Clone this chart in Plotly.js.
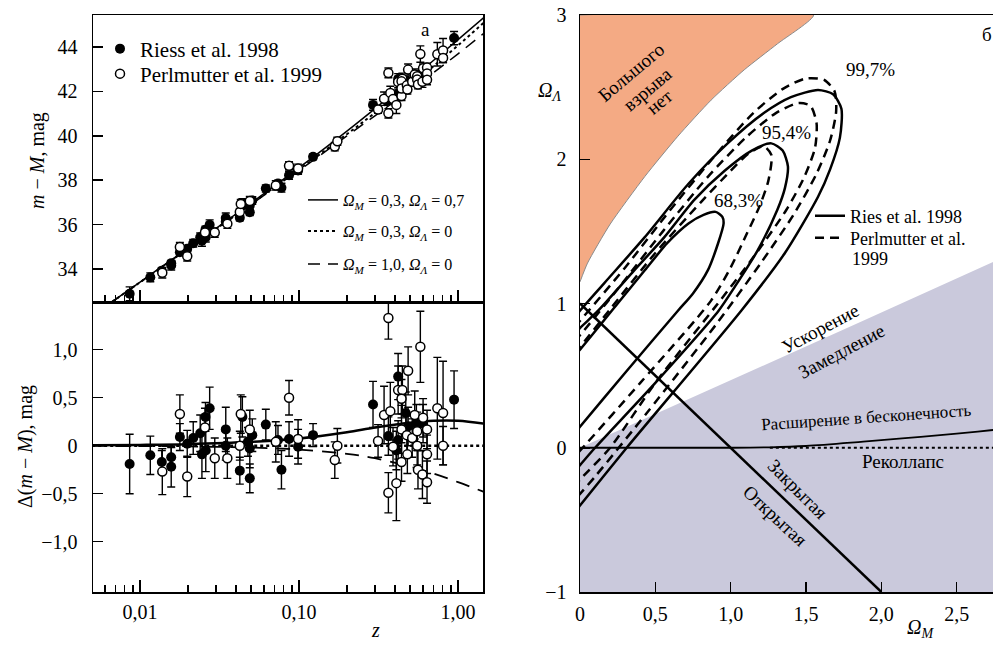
<!DOCTYPE html>
<html><head><meta charset="utf-8">
<script src="https://cdn.plot.ly/plotly-3.0.1.min.js"></script>
<style>html,body{margin:0;padding:0;overflow:hidden;background:#fff}#chart{width:1040px;height:645px}</style>
</head><body><div id="chart"></div>
<script>
// ---------- Left panels: supernova data ----------
const zRiess = [0.0086, 0.0116, 0.0137, 0.0157, 0.0157, 0.0178, 0.0198, 0.0216, 0.0239, 0.0245, 0.0258, 0.0274, 0.0259, 0.0346, 0.0346, 0.0424, 0.0440, 0.0490, 0.0490, 0.0508, 0.0477, 0.0618, 0.0737, 0.0775, 0.0865, 0.0986, 0.1225, 0.2919, 0.3647, 0.4200, 0.4200, 0.4093, 0.4690, 0.4853, 0.5470, 0.6026, 0.9440];
const muRiess = [32.88, 33.62, 33.92, 34.26, 34.16, 34.75, 34.91, 35.16, 35.43, 35.27, 35.77, 35.99, 35.43, 36.29, 36.12, 36.31, 36.95, 36.86, 36.55, 37.08, 36.87, 37.62, 37.85, 37.66, 38.22, 38.44, 39.05, 41.39, 41.60, 42.56, 41.90, 41.73, 42.46, 42.40, 42.73, 42.98, 44.40];
const resRiess = [-0.19, -0.10, -0.17, -0.12, -0.22, 0.09, 0.02, 0.08, 0.13, -0.09, 0.30, 0.39, -0.05, 0.17, 0.00, -0.26, 0.30, -0.03, -0.34, 0.11, 0.04, 0.22, 0.06, -0.25, 0.07, -0.01, 0.11, 0.43, 0.10, 0.72, 0.06, -0.05, 0.34, 0.20, 0.23, 0.23, 0.48];
const errRiess = [0.31, 0.20, 0.12, 0.10, 0.21, 0.14, 0.14, 0.17, 0.19, 0.25, 0.15, 0.22, 0.22, 0.23, 0.15, 0.14, 0.21, 0.20, 0.15, 0.17, 0.15, 0.16, 0.15, 0.20, 0.18, 0.18, 0.12, 0.24, 0.20, 0.24, 0.20, 0.20, 0.22, 0.20, 0.20, 0.20, 0.30];

const zPerl = [0.0138, 0.0178, 0.0198, 0.0256, 0.0295, 0.0354, 0.0424, 0.0430, 0.0490, 0.0714, 0.0865, 0.0986, 0.1678, 0.1742, 0.3140, 0.3426, 0.3647, 0.3647, 0.3750, 0.3900, 0.4200, 0.4466, 0.4410, 0.4853, 0.4093, 0.4410, 0.4410, 0.4765, 0.4800, 0.5150, 0.5340, 0.5534, 0.5534, 0.5598, 0.5794, 0.5971, 0.6026, 0.6383, 0.6383, 0.6383, 0.7410, 0.8050, 0.8050];
const muPerl = [33.83, 34.99, 34.57, 35.64, 35.64, 36.04, 36.57, 36.93, 37.06, 37.76, 38.65, 38.52, 39.51, 39.75, 41.18, 41.67, 42.83, 41.01, 41.93, 41.65, 42.42, 42.57, 42.45, 42.98, 41.39, 41.79, 42.13, 42.27, 42.08, 42.43, 42.76, 42.68, 42.53, 42.31, 43.68, 42.43, 43.04, 43.07, 42.81, 42.52, 43.67, 43.84, 43.50];
const resPerl = [-0.27, 0.33, -0.32, 0.19, -0.13, -0.13, 0.00, 0.33, 0.17, 0.04, 0.50, 0.07, -0.15, 0.00, 0.05, 0.32, 1.33, -0.49, 0.36, -0.01, 0.58, 0.58, 0.49, 0.78, -0.39, -0.17, 0.17, 0.11, -0.09, 0.08, 0.32, 0.15, 0.00, -0.25, 1.03, -0.30, 0.29, 0.17, -0.09, -0.38, 0.39, 0.34, 0.00];
const errPerl = [0.24, 0.20, 0.21, 0.20, 0.21, 0.21, 0.15, 0.20, 0.20, 0.21, 0.18, 0.20, 0.19, 0.18, 0.17, 0.30, 0.22, 0.21, 0.30, 0.20, 0.25, 0.25, 0.20, 0.25, 0.39, 0.20, 0.25, 0.20, 0.20, 0.20, 0.25, 0.20, 0.20, 0.20, 0.37, 0.25, 0.20, 0.20, 0.20, 0.22, 0.53, 0.54, 0.20];

// model curves
const zModel = [0.005, 0.01, 0.02, 0.05, 0.1, 0.2, 0.3, 0.5, 0.7, 1.0, 1.45];
const muLambda = [31.89, 33.41, 34.93, 36.97, 38.56, 40.21, 41.22, 42.52, 43.39, 44.33, 45.32];
const muOpen   = [31.89, 33.40, 34.91, 36.93, 38.48, 40.07, 41.03, 42.28, 43.13, 44.07, 45.09];
const muEdS    = [31.89, 33.40, 34.90, 36.91, 38.44, 39.99, 40.90, 42.06, 42.84, 43.69, 44.61];
const resLambda = [0.004, 0.008, 0.016, 0.04, 0.075, 0.14, 0.19, 0.24, 0.26, 0.26, 0.23];
const resOpen   = [0, 0, 0, 0, 0, 0, 0, 0, 0, 0, 0];
const resEdS    = [-0.002, -0.004, -0.008, -0.02, -0.04, -0.085, -0.13, -0.22, -0.29, -0.38, -0.48];

const zTickVals = [0.01, 0.1, 1];
const zTickText = ['0,01', '0,10', '1,00'];
const zMinorVals = [0.006, 0.007, 0.008, 0.009, 0.02, 0.03, 0.04, 0.05, 0.06, 0.07, 0.08, 0.09, 0.2, 0.3, 0.4, 0.5, 0.6, 0.7, 0.8, 0.9];
const muTickVals = [34, 36, 38, 40, 42, 44];
const muTickText = ['34', '36', '38', '40', '42', '44'];
const resTickVals = [-1, -0.5, 0, 0.5, 1];
const resTickText = ['\u22121,0', '\u22120,5', '0', '0,5', '1,0'];

// ---------- Right panel: Omega_M - Omega_Lambda plane ----------
const noBangOm = [0, 0.05, 0.2, 0.43, 0.65, 0.87, 1.09, 1.31, 1.55, 0];
const noBangOl = [1.15, 1.28, 1.55, 1.88, 2.16, 2.41, 2.62, 2.80, 3.0, 3.0];
const decelOm = [0, 0, 1.89, 3.0, 3.0];
const decelOl = [-1, 0, 0.885, 1.41, -1];
const flatOm = [0, 2];
const flatOl = [1, -1];
const expandOm = [0, 1.0, 1.26, 1.5, 1.88, 2.2, 2.5, 2.74, 3.0];
const expandOl = [0, 0, 0.003, 0.012, 0.042, 0.07, 0.098, 0.123, 0.15];
const recollOm = [1.26, 3.0];
const recollOl = [0, 0];

const riess68Om = [-0.1, 0, 0.25, 0.43, 0.58, 0.72, 0.82, 0.90, 0.945, 0.953, 0.916, 0.849, 0.75, 0.65, 0.30, 0, -0.1];
const riess68Ol = [0.56, 0.68, 1.0, 1.23, 1.42, 1.555, 1.615, 1.635, 1.60, 1.555, 1.416, 1.231, 1.07, 0.95, 0.52, 0.146, 0.02];
const riess95Om = [-0.1, 0, 0.12, 0.36, 0.56, 0.76, 0.96, 1.14, 1.27, 1.345, 1.38, 1.36, 1.31, 1.18, 1.03, 0.92, 0.50, 0.10, 0, -0.1];
const riess95Ol = [0.72, 0.83, 0.95, 1.23, 1.46, 1.72, 1.92, 2.06, 2.11, 2.06, 1.95, 1.80, 1.65, 1.37, 1.12, 0.95, 0.45, 0.0, -0.12, -0.24];
const riess99Om = [-0.1, 0, 0.16, 0.43, 0.72, 0.98, 1.22, 1.40, 1.58, 1.68, 1.735, 1.725, 1.66, 1.58, 1.36, 1.07, 0.31, 0, -0.1];
const riess99Ol = [0.82, 0.95, 1.14, 1.46, 1.83, 2.11, 2.32, 2.43, 2.48, 2.45, 2.35, 2.15, 1.93, 1.74, 1.35, 0.95, 0.0, -0.40, -0.53];

const perl68Om = [-0.1, 0, 0.2, 0.5, 0.8, 1.0, 1.12, 1.22, 1.27, 1.25, 1.19, 1.11, 1.0, 0.87, 0.4, 0, -0.1];
const perl68Ol = [0.58, 0.70, 0.96, 1.35, 1.70, 1.92, 2.04, 2.09, 2.03, 1.85, 1.67, 1.49, 1.25, 1.02, 0.45, -0.02, -0.13];
const perl95Om = [-0.1, 0, 0.25, 0.55, 0.85, 1.1, 1.3, 1.45, 1.53, 1.57, 1.56, 1.49, 1.37, 1.15, 0.9, 0.5, 0.2, 0, -0.1];
const perl95Ol = [0.66, 0.78, 1.1, 1.5, 1.88, 2.15, 2.32, 2.39, 2.37, 2.25, 2.08, 1.88, 1.65, 1.32, 0.98, 0.45, 0.0, -0.22, -0.34];
const perl99Om = [-0.1, 0, 0.3, 0.6, 0.9, 1.15, 1.35, 1.50, 1.62, 1.69, 1.70, 1.66, 1.57, 1.42, 1.2, 0.9, 0.45, 0.1, 0, -0.1];
const perl99Ol = [0.76, 0.88, 1.25, 1.65, 2.03, 2.32, 2.49, 2.56, 2.55, 2.47, 2.33, 2.13, 1.9, 1.62, 1.28, 0.85, 0.25, -0.2, -0.32, -0.44];

const omTickVals = [0, 0.5, 1, 1.5, 2, 2.5, 3];
const omTickText = ['0', '0,5', '1,0', '1,5', '2,0', '2,5', '3,0'];
const olTickVals = [-1, 0, 1, 2, 3];
const olTickText = ['\u22121', '0', '1', '2', '3'];

// ---------- drawing ----------
const FONT = 'Liberation Serif, DejaVu Serif, Times New Roman, Times, serif';
const W = 1040, H = 645;
const fx = p => p / W, fy = p => 1 - p / H;

const mk = (x, y, xa, ya, extra) => Object.assign({x: x, y: y, xaxis: xa, yaxis: ya, type: 'scatter', hoverinfo: 'skip'}, extra);
const filledM = {symbol: 'circle', size: 10, color: '#000'};
const openM = {symbol: 'circle', size: 9, color: '#fff', line: {color: '#000', width: 1.5}};
const errB = arr => ({type: 'data', array: arr, visible: true, color: '#000', thickness: 1.4, width: 4});
const OmM = '<i>\u03A9<sub>M</sub></i>', OmL = '<i>\u03A9<sub>\u039B</sub></i>';

const traces = [
  // top panel
  mk(zModel, muLambda, 'x', 'y', {mode: 'lines', line: {color: '#000', width: 1.5, shape: 'spline'}, name: OmM + ' = 0,3, ' + OmL + ' = 0,7', legend: 'legend3'}),
  mk(zModel, muOpen, 'x', 'y', {mode: 'lines', line: {color: '#000', width: 2, dash: 'dot', shape: 'spline'}, name: OmM + ' = 0,3, ' + OmL + ' = 0', legend: 'legend4'}),
  mk(zModel, muEdS, 'x', 'y', {mode: 'lines', line: {color: '#000', width: 1.5, dash: '12px,8px', shape: 'spline'}, name: OmM + ' = 1,0, ' + OmL + ' = 0', legend: 'legend5'}),
  mk(zRiess, muRiess, 'x', 'y', {mode: 'markers', marker: filledM, error_y: errB(errRiess), name: 'Riess et al. 1998', legend: 'legend'}),
  mk(zPerl, muPerl, 'x', 'y', {mode: 'markers', marker: openM, error_y: errB(errPerl), name: 'Perlmutter et al. 1999', legend: 'legend2'}),
  // bottom panel
  mk(zModel, resOpen, 'x2', 'y2', {mode: 'lines', line: {color: '#000', width: 2.5, dash: 'dot'}, showlegend: false}),
  mk(zModel, resEdS, 'x2', 'y2', {mode: 'lines', line: {color: '#000', width: 1.8, dash: '14px,9px', shape: 'spline'}, showlegend: false}),
  mk(zModel, resLambda, 'x2', 'y2', {mode: 'lines', line: {color: '#000', width: 2.5, shape: 'spline'}, showlegend: false}),
  mk(zRiess, resRiess, 'x2', 'y2', {mode: 'markers', marker: filledM, error_y: errB(errRiess), showlegend: false}),
  mk(zPerl, resPerl, 'x2', 'y2', {mode: 'markers', marker: openM, error_y: errB(errPerl), showlegend: false}),
  // right panel
  mk(decelOm, decelOl, 'x3', 'y3', {mode: 'lines', fill: 'toself', fillcolor: '#cac9dc', line: {width: 0}, showlegend: false}),
  mk(noBangOm, noBangOl, 'x3', 'y3', {mode: 'lines', fill: 'toself', fillcolor: '#f4aa84', line: {width: 1, color: '#8a8a8a', shape: 'spline', smoothing: 0.6}, showlegend: false}),
  mk(expandOm, expandOl, 'x3', 'y3', {mode: 'lines', line: {color: '#000', width: 1.8, shape: 'spline'}, showlegend: false}),
  mk(recollOm, recollOl, 'x3', 'y3', {mode: 'lines', line: {color: '#000', width: 2, dash: 'dot'}, showlegend: false}),
  mk(flatOm, flatOl, 'x3', 'y3', {mode: 'lines', line: {color: '#000', width: 2.5}, showlegend: false}),
  mk(riess68Om, riess68Ol, 'x3', 'y3', {mode: 'lines', line: {color: '#000', width: 2.5, shape: 'spline', smoothing: 0.7}, name: 'Ries et al. 1998', legend: 'legend6'}),
  mk(riess95Om, riess95Ol, 'x3', 'y3', {mode: 'lines', line: {color: '#000', width: 2.5, shape: 'spline', smoothing: 0.7}, showlegend: false}),
  mk(riess99Om, riess99Ol, 'x3', 'y3', {mode: 'lines', line: {color: '#000', width: 2.5, shape: 'spline', smoothing: 0.7}, showlegend: false}),
  mk(perl68Om, perl68Ol, 'x3', 'y3', {mode: 'lines', line: {color: '#000', width: 2.5, dash: '9px,6px', shape: 'spline', smoothing: 0.7}, name: 'Perlmutter et al.', legend: 'legend7'}),
  mk(perl95Om, perl95Ol, 'x3', 'y3', {mode: 'lines', line: {color: '#000', width: 2.5, dash: '9px,6px', shape: 'spline', smoothing: 0.7}, showlegend: false}),
  mk(perl99Om, perl99Ol, 'x3', 'y3', {mode: 'lines', line: {color: '#000', width: 2.5, dash: '9px,6px', shape: 'spline', smoothing: 0.7}, showlegend: false})
];

const axisBase = {showline: true, linecolor: '#000', linewidth: 1.5, mirror: true, showgrid: false, zeroline: false,
  ticks: 'inside', tickcolor: '#000', tickwidth: 1.5, tickfont: {family: FONT, size: 20, color: '#000'}, fixedrange: true};

const ann = (px, py, text, size, angle, extra) => Object.assign({x: fx(px), y: fy(py), xref: 'paper', yref: 'paper', text: text, showarrow: false,
  font: {family: FONT, size: size, color: '#000'}, textangle: angle || 0, xanchor: 'center', yanchor: 'middle'}, extra || {});
const leg = (pxLeft, pyMid, size) => ({x: fx(pxLeft), y: fy(pyMid), xanchor: 'left', yanchor: 'middle', bgcolor: 'rgba(0,0,0,0)', borderwidth: 0,
  font: {family: FONT, size: size, color: '#000'}, itemwidth: 30});

const layout = {
  width: W, height: H, margin: {l: 0, r: 0, t: 0, b: 0}, paper_bgcolor: '#fff', plot_bgcolor: 'rgba(0,0,0,0)',
  font: {family: FONT, color: '#000', size: 16},
  xaxis: Object.assign({}, axisBase, {type: 'log', domain: [fx(93), fx(483)], range: [-2.296, 0.157], anchor: 'y',
    tickmode: 'array', tickvals: zTickVals, ticktext: zTickText, showticklabels: false, ticklen: 12,
    minor: {tickmode: 'array', tickvals: zMinorVals, ticks: 'inside', ticklen: 7, tickcolor: '#000', tickwidth: 1.5}}),
  yaxis: Object.assign({}, axisBase, {domain: [fy(302), fy(15)], range: [32.51, 45.44], anchor: 'x',
    tickmode: 'array', tickvals: muTickVals, ticktext: muTickText, ticklen: 10, ticklabelstandoff: 10}),
  xaxis2: Object.assign({}, axisBase, {type: 'log', domain: [fx(93), fx(483)], range: [-2.296, 0.157], anchor: 'y2',
    tickmode: 'array', tickvals: zTickVals, ticktext: zTickText, ticklen: 12, ticklabelstandoff: 1,
    minor: {tickmode: 'array', tickvals: zMinorVals, ticks: 'inside', ticklen: 7, tickcolor: '#000', tickwidth: 1.5}}),
  yaxis2: Object.assign({}, axisBase, {domain: [fy(592), fy(302)], range: [-1.524, 1.497], anchor: 'x2',
    tickmode: 'array', tickvals: resTickVals, ticktext: resTickText, ticklen: 10, ticklabelstandoff: 10}),
  xaxis3: Object.assign({}, axisBase, {domain: [fx(580), fx(1032)], range: [0, 3], anchor: 'y3',
    tickmode: 'array', tickvals: omTickVals, ticktext: omTickText, ticklen: 10, ticklabelstandoff: 3}),
  yaxis3: Object.assign({}, axisBase, {domain: [fy(592), fy(15)], range: [-1, 3], anchor: 'x3',
    tickmode: 'array', tickvals: olTickVals, ticktext: olTickText, ticklen: 10, ticklabelstandoff: 8}),
  legend: leg(100, 49, 21),
  legend2: leg(100, 74, 21),
  legend3: leg(303, 200, 16),
  legend4: leg(303, 231, 16),
  legend5: leg(303, 264, 16),
  legend6: leg(810, 216, 18),
  legend7: leg(810, 238, 18),
  annotations: [
    ann(38, 161, '<i>m</i> \u2212 <i>M</i>, mag', 20, -90),
    ann(25, 447, '\u0394(<i>m</i> \u2212 <i>M</i>), mag', 20, -90),
    ann(375, 630, '<i>z</i>', 20, 0),
    ann(425, 30, '\u0430', 19, 0),
    ann(549, 92, OmL, 20, 0),
    ann(920, 628, OmM, 20, 0),
    ann(987, 35, '\u0431', 19, 0),
    ann(631, 73, '\u0411\u043e\u043b\u044c\u0448\u043e\u0433\u043e', 19, -40),
    ann(647, 89, '\u0432\u0437\u0440\u044b\u0432\u0430', 19, -40),
    ann(660, 102, '\u043d\u0435\u0442', 19, -40),
    ann(850, 259, '1999', 18, 0, {xanchor: 'left'}),
    ann(870, 70, '99,7%', 19, 0),
    ann(786, 132, '95,4%', 19, 0),
    ann(738, 200, '68,3%', 19, 0),
    ann(820, 328, '\u0423\u0441\u043a\u043e\u0440\u0435\u043d\u0438\u0435', 19, -28),
    ann(841, 351, '\u0417\u0430\u043c\u0435\u0434\u043b\u0435\u043d\u0438\u0435', 19, -28),
    ann(758, 436, '\u0420\u0430\u0441\u0448\u0438\u0440\u0435\u043d\u0438\u0435 \u0432 \u0431\u0435\u0441\u043a\u043e\u043d\u0435\u0447\u043d\u043e\u0441\u0442\u044c', 17, -4, {xanchor: 'left', yanchor: 'bottom'}),
    ann(903, 461, '\u0420\u0435\u043a\u043e\u043b\u043b\u0430\u043f\u0441', 19, 0),
    ann(797, 489, '\u0417\u0430\u043a\u0440\u044b\u0442\u0430\u044f', 19, 45),
    ann(775, 515, '\u041e\u0442\u043a\u0440\u044b\u0442\u0430\u044f', 19, 43)
  ]
};

Plotly.newPlot('chart', traces, layout, {staticPlot: true, displayModeBar: false});
</script></body></html>
